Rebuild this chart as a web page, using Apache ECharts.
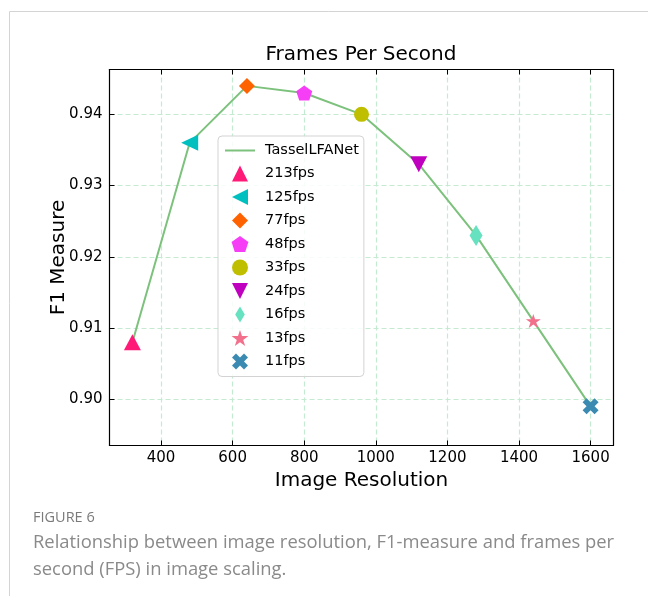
<!DOCTYPE html>
<html>
<head>
<meta charset="utf-8">
<script src="https://cdn.jsdelivr.net/npm/echarts@6/dist/echarts.min.js"></script>
<style>
html,body{margin:0;padding:0;background:#fff;}
#chart{width:648px;height:596px;}
</style>
</head>
<body>
<div id="chart"></div>
<script>
// ---- data ----
var resolutions = [320, 480, 640, 800, 960, 1120, 1280, 1440, 1600];
var f1Measure = [0.908, 0.936, 0.944, 0.943, 0.940, 0.933, 0.923, 0.911, 0.899];
var fpsLabels = ['213fps', '125fps', '77fps', '48fps', '33fps', '24fps', '16fps', '13fps', '11fps'];
var lineName = 'TasselLFANet';
var titleText = 'Frames Per Second';
var xName = 'Image Resolution';
var yName = 'F1 Measure';
var captionHead = 'FIGURE 6';
var captionLines = ['Relationship between image resolution, F1-measure and frames per', 'second (FPS) in image scaling.'];

// ---- styles ----
var lineColor = '#7cc17c';
var markerColors = ['#ff1a78', '#00bfbf', '#ff6200', '#f53ef5', '#bfbf00', '#bf00bf', '#66e2c0', '#f2708c', '#3a8ab2'];
function poly(pts) {
  return 'path://' + pts.map(function (p, i) { return (i ? 'L' : 'M') + p[0].toFixed(4) + ',' + p[1].toFixed(4); }).join('') + 'Z';
}
function regular(n, rOuter, rInner) {
  var pts = [];
  var k = rInner ? 2 * n : n;
  for (var i = 0; i < k; i++) {
    var a = -Math.PI / 2 + i * Math.PI * 2 / k;
    var r = (rInner && i % 2) ? rInner : rOuter;
    pts.push([r * Math.cos(a), r * Math.sin(a)]);
  }
  return pts;
}
var plusPts = [[-1,-3],[1,-3],[1,-1],[3,-1],[3,1],[1,1],[1,3],[-1,3],[-1,1],[-3,1],[-3,-1],[-1,-1]];
var xPts = plusPts.map(function (p) { return [(p[0] - p[1]) / Math.SQRT2, (p[0] + p[1]) / Math.SQRT2]; });
var markerSymbols = [
  poly([[0,-1],[1,1],[-1,1]]),
  poly([[-1,0],[1,-1],[1,1]]),
  poly([[0,-1],[1,0],[0,1],[-1,0]]),
  poly(regular(5, 1)),
  'circle',
  poly([[-1,-1],[1,-1],[0,1]]),
  poly([[0,-1],[0.6,0],[0,1],[-0.6,0]]),
  poly(regular(5, 1, 0.382)),
  poly(xPts)
];
var markerSizes = [[17,16],[17,16],[16,16],[16,15],15,[17,16],[13,21],[15,14],[16,16]];
var lineIcon = 'path://M0,0L15,0L15,1L0,1Z';

var FONT = 'DejaVu Sans';
var series = [{
  name: lineName,
  type: 'line',
  data: resolutions.map(function (x, i) { return [x, f1Measure[i]]; }),
  symbol: 'none',
  lineStyle: { color: lineColor, width: 2 },
  itemStyle: { color: lineColor },
  z: 2,
  silent: true
}];
fpsLabels.forEach(function (lab, i) {
  series.push({
    name: lab,
    type: 'scatter',
    data: [[resolutions[i], f1Measure[i]]],
    symbol: markerSymbols[i],
    symbolSize: markerSizes[i],
    itemStyle: { color: markerColors[i], opacity: 1 },
    z: 3,
    silent: true
  });
});

var legendData = [{ name: lineName, icon: lineIcon, itemStyle: { color: lineColor } }].concat(fpsLabels.map(function (lab, i) {
  return { name: lab, icon: markerSymbols[i], itemStyle: { color: markerColors[i] } };
}));

function fmtX(v) { return String(Math.round(v)); }

var chart = echarts.init(document.getElementById('chart'), null, { renderer: 'canvas' });
chart.setOption({
  animation: false,
  backgroundColor: '#ffffff',
  title: {
    text: titleText,
    left: 361, textAlign: 'center',
    top: 45, padding: 0,
    textStyle: { fontFamily: FONT, fontSize: 20, fontWeight: 'normal', color: '#000' }
  },
  grid: { left: 109.5, right: 34.5, top: 69.5, bottom: 150.5, containLabel: false },
  legend: {
    orient: 'vertical',
    left: 218, top: 136,
    padding: [7, 5, 7, 7],
    itemWidth: 30, itemHeight: 16, itemGap: 7.5,
    data: legendData,
    textStyle: { fontFamily: FONT, fontSize: 14.5, color: '#000', padding: [0, 0, 0, 5] },
    backgroundColor: 'rgba(255,255,255,0.85)',
    borderColor: '#d3d3d3', borderWidth: 1, borderRadius: 4,
    selectedMode: false
  },
  xAxis: [{
    type: 'value', min: 256, max: 1664, minInterval: 200, maxInterval: 200, splitNumber: 7,
    position: 'bottom',
    name: xName, nameLocation: 'middle', nameGap: 25, nameMoveOverlap: false,
    nameTextStyle: { fontFamily: FONT, fontSize: 20, color: '#000' },
    axisLine: { show: true, onZero: false, lineStyle: { color: '#000', width: 1.2 } },
    axisTick: { show: true, inside: true, length: 5, lineStyle: { color: '#000', width: 1 } },
    axisLabel: { fontFamily: FONT, fontSize: 15, color: '#000', margin: 5, showMinLabel: false, showMaxLabel: false, formatter: fmtX },
    splitLine: { show: true, showMinLine: false, showMaxLine: false, lineStyle: { color: '#c4ebd2', type: [5, 3], width: 1.2 } }
  }, {
    type: 'value', min: 256, max: 1664, minInterval: 200, maxInterval: 200, splitNumber: 7,
    position: 'top',
    axisLine: { show: true, onZero: false, lineStyle: { color: '#000', width: 1.2 } },
    axisTick: { show: true, inside: true, length: 5, lineStyle: { color: '#000', width: 1 } },
    axisLabel: { show: false },
    splitLine: { show: false }
  }],
  yAxis: [{
    type: 'value', min: 0.8935, max: 0.9463, minInterval: 0.01, maxInterval: 0.01, splitNumber: 5,
    position: 'left',
    name: yName, nameLocation: 'middle', nameGap: 41, nameMoveOverlap: false,
    nameTextStyle: { fontFamily: FONT, fontSize: 20, color: '#000' },
    axisLine: { show: true, onZero: false, lineStyle: { color: '#000', width: 1.2 } },
    axisTick: { show: true, inside: true, length: 5, lineStyle: { color: '#000', width: 1 } },
    axisLabel: { fontFamily: FONT, fontSize: 15, color: '#000', margin: 7, showMinLabel: false, showMaxLabel: false,
      formatter: function (v) { return v.toFixed(2); } },
    splitLine: { show: true, showMinLine: false, showMaxLine: false, lineStyle: { color: '#c4ebd2', type: [5, 3], width: 1.2 } }
  }, {
    type: 'value', min: 0.8935, max: 0.9463,
    position: 'right',
    axisLine: { show: true, onZero: false, lineStyle: { color: '#000', width: 1.2 } },
    axisTick: { show: false },
    axisLabel: { show: false },
    splitLine: { show: false }
  }],
  graphic: [
    { type: 'line', shape: { x1: 9.5, y1: 11.5, x2: 648, y2: 11.5 }, style: { stroke: '#d4d4d4', lineWidth: 1 }, silent: true },
    { type: 'line', shape: { x1: 9.5, y1: 11.5, x2: 9.5, y2: 596 }, style: { stroke: '#d4d4d4', lineWidth: 1 }, silent: true },
    { type: 'text', left: 33, top: 510, style: { text: captionHead, font: '500 14.5px "Open Sans"', fill: '#7a7a7a' }, silent: true },
    { type: 'text', left: 33, top: 534, style: { text: captionLines[0], font: '18.4px "Open Sans"', fill: '#8a8a8a' }, silent: true },
    { type: 'text', left: 33, top: 561, style: { text: captionLines[1], font: '18.4px "Open Sans"', fill: '#8a8a8a' }, silent: true }
  ],
  series: series
});
</script>
</body>
</html>
